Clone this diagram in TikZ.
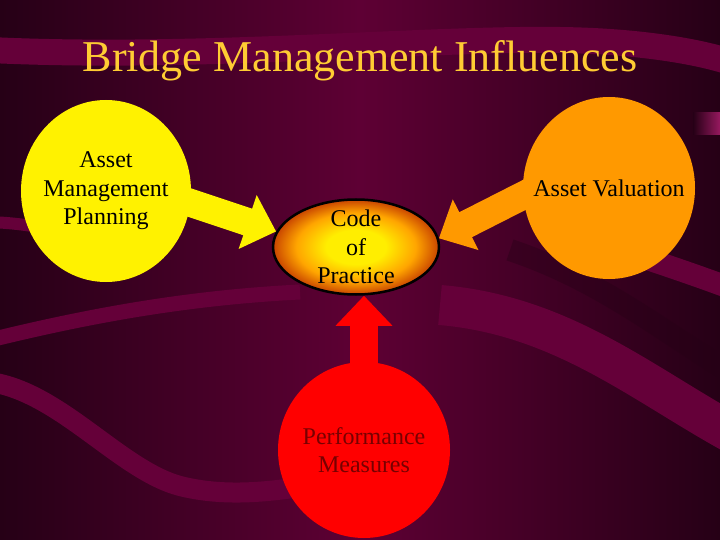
\documentclass[tikz,border=0pt]{standalone}
\usepackage{fontspec}
\setmainfont{Liberation Serif}
\usepackage{tikz}
\usetikzlibrary{arrows.meta, positioning, shapes.geometric}
\usepackage{xcolor}
\definecolor{bgdark}{RGB}{38,0,22}
\definecolor{bgmid}{RGB}{94,0,52}
\definecolor{bandcol}{RGB}{101,0,57}
\definecolor{bandpink}{RGB}{150,25,95}
\definecolor{titlegold}{RGB}{255,204,51}
\definecolor{avorange}{RGB}{255,153,0}
\definecolor{pmred}{RGB}{255,0,0}
\definecolor{pmdark}{RGB}{120,0,0}
\definecolor{copcore}{RGB}{255,238,0}
\definecolor{copmid}{RGB}{255,165,0}
\definecolor{copedge}{RGB}{200,68,0}
\pgfdeclareradialshading{copglow}{\pgfpoint{0bp}{0bp}}{color(0bp)=(copcore); color(9bp)=(copcore); color(18bp)=(copmid); color(25bp)=(copedge); color(50bp)=(copedge)}
\tikzset{%
	bubble/.style={
		ellipse,
		inner sep=0pt
	},
	caption/.style={
		align=center,
		font=\fontsize{24bp}{28.5bp}\selectfont
	},
	fat arrow/.style={
		line width=28bp,
		-{Triangle[width=55bp,length=30bp]}
	},
	band/.style={
		draw=bandcol,
		line cap=butt
	},
}

\begin{document}
\begin{tikzpicture}[x=1bp, y=-1bp]
	\useasboundingbox (0,0) rectangle (720,540);
	% Background with its swirls
	\shade[left color=bgdark, right color=bgdark, middle color=bgmid] (0,0) rectangle (720,540);
	\begin{scope}
		\clip (0,0) rectangle (720,540);
		\draw[draw=bgdark, opacity=0.4, line width=22bp] (510,250) .. controls (600,280) and (660,330) .. (730,372);
		\draw[band, line width=26bp] (-10,50) .. controls (200,60) and (420,38) .. (560,40) .. controls (640,41) and (700,52) .. (730,62);
		\draw[band, line width=12bp] (-10,222) .. controls (40,224) and (80,234) .. (130,258);
		\draw[band, line width=15bp] (-10,340) .. controls (80,318) and (180,298) .. (300,292);
		\draw[band, line width=20bp] (-10,382) .. controls (60,392) and (120,470) .. (180,486) .. controls (220,496) and (260,493) .. (300,487);
		\draw[band, line width=22bp] (600,243) .. controls (650,260) and (690,273) .. (730,288);
		\draw[band, line width=40bp] (440,305) .. controls (560,315) and (640,382) .. (730,432);
		\shade[left color=bgdark, right color=bandpink] (693,113) rectangle (720,135);
	\end{scope}

	% Title
	\node[font=\fontsize{44bp}{50bp}\selectfont, text=titlegold, anchor=base] (title) at (360,72) {Bridge Management Influences};

	% The four bubbles
	\node[bubble, minimum width=170bp, minimum height=182bp, fill=yellow] (apm) at (106,191) {};
	\node[bubble, minimum width=172bp, minimum height=182bp, fill=avorange] (av) at (609,188) {};
	\node[bubble, minimum width=172bp, minimum height=176bp, fill=pmred] (pm) at (364,450) {};
	\node[bubble, minimum width=166bp, minimum height=95bp, shade, shading=copglow, draw=black, line width=2.5bp] (cop) at (356,247) {};

	% Fat arrows into the code of practice
	\draw[fat arrow, yellow, shorten <=-14bp] (apm.-8) -- (cop.169);
	\draw[fat arrow, avorange, shorten <=-14bp] (av.185) -- (cop.6);
	\draw[fat arrow, pmred, shorten <=-8bp] (pm.north) -- (pm.north |- cop.south);

	% Texts
	\node[caption] (apmtext) at (apm) {Asset\\Management\\Planning};
	\node[caption] (avtext) at (av) {Asset Valuation};
	\node[caption] (coptext) at (cop) {Code\\of\\Practice};
	\node[caption, text=pmdark] (pmtext) at (pm) {Performance\\Measures};
\end{tikzpicture}
\end{document}
